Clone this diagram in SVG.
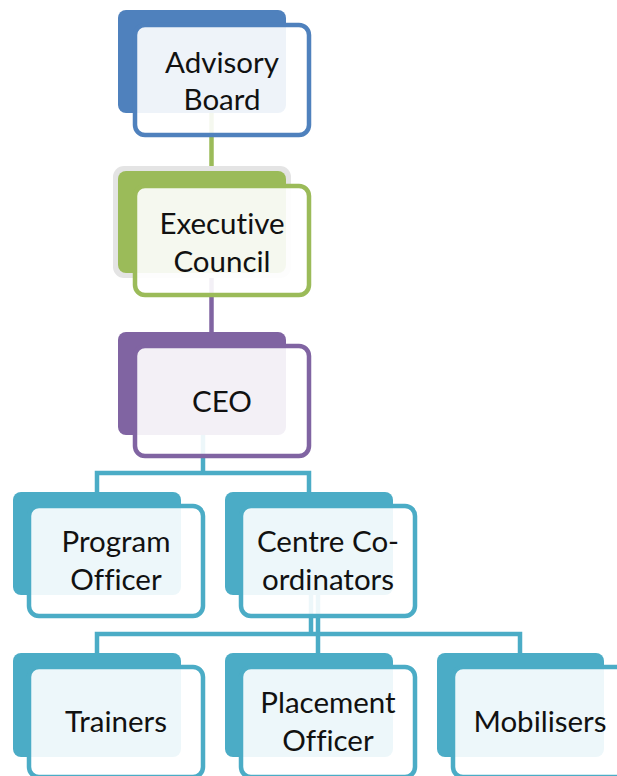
<svg xmlns="http://www.w3.org/2000/svg" width="617" height="776" viewBox="0 0 617 776">
  <style>
    .back { stroke: none; }
    .front { fill: #ffffff; fill-opacity: 0.9; stroke-width: 4.5; }
    .lbl { font-family: Lato, "Liberation Sans", sans-serif; font-size: 29.5px; fill: #111111; text-anchor: middle; font-variant-ligatures: none; font-feature-settings: "liga" 0, "clig" 0; }
    .conn { fill: none; stroke-width: 4.5; stroke-linejoin: miter; stroke-linecap: butt; }
    .blue .back { fill: #4f81bd; } .blue .front { stroke: #4f81bd; }
    .green .back { fill: #9bbb59; } .green .front { stroke: #9bbb59; }
    .purple .back { fill: #8064a2; } .purple .front { stroke: #8064a2; }
    .teal .back { fill: #4bacc6; } .teal .front { stroke: #4bacc6; }
  </style>
  <rect width="617" height="776" fill="#ffffff"/>

  <!-- connectors -->
  <g id="connectors">
    <path class="conn" stroke="#9bbb59" d="M211.5,113 V171"/>
    <path class="conn" stroke="#8064a2" d="M211.5,273 V332"/>
    <path class="conn" stroke="#4bacc6" d="M203,435 V473 M97,492 V473 H309 V492"/>
    <path class="conn" stroke="#4bacc6" d="M311,595 V634 M318,595 V653 M97,653 V634 H520 V653"/>
  </g>

  <!-- level 1 -->
  <g id="advisory-board" class="blue">
    <rect class="back" x="118" y="10" width="168" height="103" rx="8"/>
    <rect class="front" x="135" y="25" width="174" height="110" rx="10"/>
    <text class="lbl" x="222" y="73">Advisory</text>
    <text class="lbl" x="222" y="110">Board</text>
  </g>

  <!-- level 2 -->
  <g id="executive-council" class="green">
    <rect x="113" y="166" width="178" height="112" rx="11" fill="#e4e4e4"/>
    <rect class="back" x="118" y="171" width="168" height="102" rx="8"/>
    <rect class="front" x="135" y="186" width="174" height="109" rx="10"/>
    <text class="lbl" x="222" y="234">Executive</text>
    <text class="lbl" x="222" y="272">Council</text>
  </g>

  <!-- level 3 -->
  <g id="ceo" class="purple">
    <rect class="back" x="118" y="332" width="168" height="103" rx="8"/>
    <rect class="front" x="135" y="346" width="174" height="110" rx="10"/>
    <text class="lbl" x="222" y="412">CEO</text>
  </g>

  <!-- level 4 -->
  <g id="program-officer" class="teal">
    <rect class="back" x="13" y="492" width="168" height="103" rx="8"/>
    <rect class="front" x="29" y="506" width="174" height="110" rx="10"/>
    <text class="lbl" x="116" y="552">Program</text>
    <text class="lbl" x="116" y="590">Officer</text>
  </g>
  <g id="centre-coordinators" class="teal">
    <rect class="back" x="225" y="492" width="168" height="103" rx="8"/>
    <rect class="front" x="241" y="506" width="174" height="110" rx="10"/>
    <text class="lbl" x="328" y="552">Centre Co-</text>
    <text class="lbl" x="328" y="590">ordinators</text>
  </g>

  <!-- level 5 -->
  <g id="trainers" class="teal">
    <rect class="back" x="13" y="653" width="168" height="104" rx="8"/>
    <rect class="front" x="29" y="667" width="174" height="110" rx="10"/>
    <text class="lbl" x="116" y="732">Trainers</text>
  </g>
  <g id="placement-officer" class="teal">
    <rect class="back" x="225" y="653" width="168" height="104" rx="8"/>
    <rect class="front" x="241" y="667" width="174" height="110" rx="10"/>
    <text class="lbl" x="328" y="713">Placement</text>
    <text class="lbl" x="328" y="751">Officer</text>
  </g>
  <g id="mobilisers" class="teal">
    <rect class="back" x="437" y="653" width="167" height="104" rx="8"/>
    <rect class="front" x="453" y="667" width="174" height="110" rx="10"/>
    <text class="lbl" x="540" y="732">Mobilisers</text>
  </g>
</svg>
